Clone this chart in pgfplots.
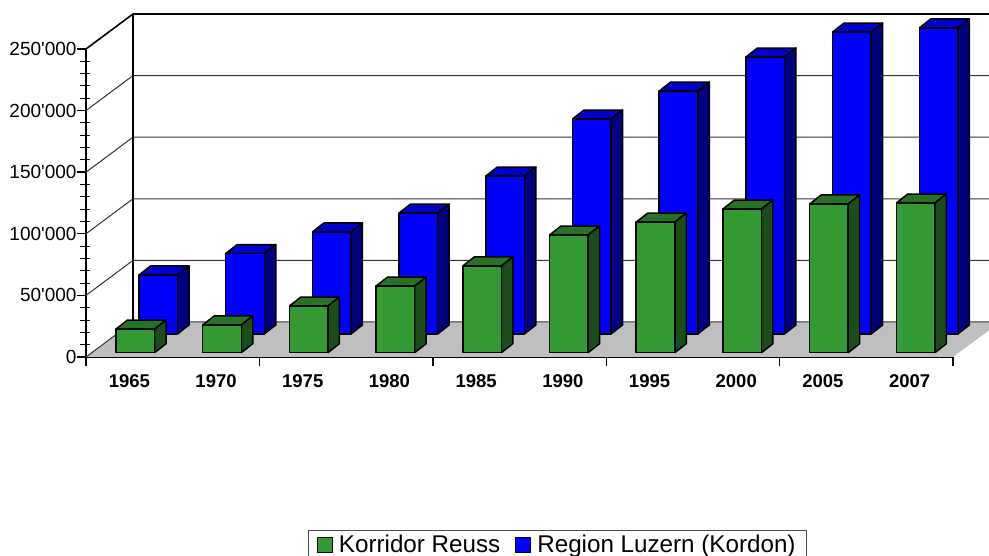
\documentclass[border=0pt]{standalone}
\usepackage{fontspec}
\setmainfont{Liberation Sans}
\newfontfamily\arial{Liberation Sans}
\usepackage{pgfplots}
\usepackage{pgfplotstable}
\pgfplotsset{compat=1.18}
\definecolor{gf}{HTML}{339933}
\definecolor{gt}{HTML}{267326}
\definecolor{gs}{HTML}{1A4D1A}
\definecolor{bf}{HTML}{0000FF}
\definecolor{bt}{HTML}{0000CC}
\definecolor{bs}{HTML}{000080}
\pgfplotstableread{
idx green blue
0 19200 47900
1 22500 65300
2 37900 82800
3 54100 98200
4 70400 128200
5 95500 174500
6 106000 197200
7 116600 224800
8 120700 245100
9 121500 248400
}\data
% one bar: #1 row, #2 column, #3 left offset, #4 base, #5 front, #6 top, #7 side
\newcommand{\onebar}[7]{%
  \pgfplotstablegetelem{#1}{#2}\of\data
  \let\val\pgfplotsretval
  \edef\L{\fpeval{#1+#3}}\edef\R{\fpeval{#1+#3+0.445}}%
  \edef\LL{\fpeval{#1+#3+0.1326}}\edef\RR{\fpeval{#1+#3+0.445+0.1326}}%
  \edef\B{\fpeval{#4}}\edef\T{\fpeval{#4+\val}}%
  \edef\BB{\fpeval{#4+7305}}\edef\TT{\fpeval{#4+\val+7305}}%
  \edef\tmp{\noexpand\addplot[forget plot,no marks,sharp plot,line join=round,draw=black,line width=1.5pt,fill=#6]
    coordinates {(\L,\T)(\LL,\TT)(\RR,\TT)(\R,\T)(\L,\T)};
  \noexpand\addplot[forget plot,no marks,sharp plot,line join=round,draw=black,line width=1.5pt,fill=#7]
    coordinates {(\R,\B)(\RR,\BB)(\RR,\TT)(\R,\T)(\R,\B)};
  \noexpand\addplot[forget plot,no marks,sharp plot,line join=round,draw=black,line width=1.5pt,fill=#5]
    coordinates {(\L,\B)(\R,\B)(\R,\T)(\L,\T)(\L,\B)};}%
  \tmp
}
\begin{document}
\begin{tikzpicture}[x=1pt,y=1pt]
\useasboundingbox (0,0) rectangle (989,556);
\clip (0,0) rectangle (989,556);
\begin{axis}[
  at={(86pt,199pt)},anchor=south west,
  scale only axis,width=867pt,height=308pt,
  xmin=0,xmax=10,ymin=0,ymax=250000,
  clip=false,
  scaled y ticks=false,
  axis x line*=bottom,axis y line*=left,
  axis line style={-,line width=1.4pt,black},
  tick align=outside,
  xtick={0,2,4,6,8,10},xticklabels={},
  extra x ticks={0.5,1.5,2.5,3.5,4.5,5.5,6.5,7.5,8.5,9.5},
  extra x tick labels={1965,1970,1975,1980,1985,1990,1995,2000,2005,2007},
  extra x tick style={tick style={draw=none},
    xticklabel style={font=\arial\fontsize{18.5}{22}\selectfont\bfseries,yshift=-5pt}},
  ytick={0,50000,100000,150000,200000,250000},
  yticklabels={0,50'000,100'000,150'000,200'000,250'000},
  yticklabel style={font=\arial\fontsize{19}{22}\selectfont,xshift=3pt},
  minor y tick num=4,
  major tick length=9pt,minor tick length=10pt,
  tick style={black,line width=1.4pt},
  minor y tick style={xshift=4pt,black,line width=1pt},
  legend style={at={(0.256,-0.5617)},anchor=north west,legend columns=2,draw=black!70,line width=1pt,
    font=\arial\fontsize{24.2}{28}\selectfont,
    inner xsep=8.5pt,inner ysep=2.5pt,
    /tikz/every even column/.append style={column sep=13pt},
    /tikz/every odd column/.append style={column sep=4pt}},
  legend image code/.code={\draw[#1,line width=1pt] (0pt,-7.5pt) rectangle (15pt,7pt);},
]
% floor
\addplot[forget plot,no marks,sharp plot,draw=none,fill=black!25]
  coordinates {(0,0)(10,0)(10.542,28409)(0.542,28409)(0,0)};
% back wall, grid and side lines
\pgfplotsinvokeforeach{0,50000,100000,150000,200000}{
  \edef\tmp{\noexpand\addplot[forget plot,no marks,sharp plot,draw=black!80,line width=1pt]
    coordinates {(0,#1)(0.542,\fpeval{#1+28409})(11.6,\fpeval{#1+28409})};}\tmp
}
\addplot[forget plot,no marks,sharp plot,draw=black,line width=1.6pt]
  coordinates {(0,250000)(0.542,278409)(11.6,278409)};
\addplot[forget plot,no marks,sharp plot,draw=black,line width=1.6pt]
  coordinates {(0.542,28409)(0.542,278409)};
% bars
\pgfplotsinvokeforeach{0,...,9}{\onebar{#1}{blue}{0.611}{18669}{bf}{bt}{bs}}
\pgfplotsinvokeforeach{0,...,9}{\onebar{#1}{green}{0.346}{3490}{gf}{gt}{gs}}
\addlegendimage{fill=gf,draw=black}
\addlegendentry{Korridor Reuss}
\addlegendimage{fill=bf,draw=black}
\addlegendentry{Region Luzern (Kordon)}
\end{axis}
\end{tikzpicture}
\end{document}
